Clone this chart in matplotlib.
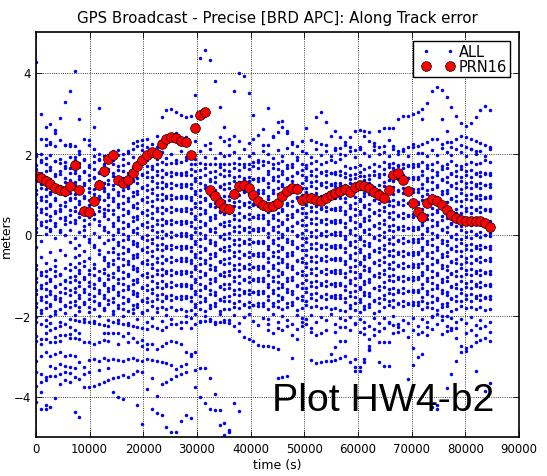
import matplotlib
matplotlib.use('Agg')
import matplotlib.pyplot as plt
from matplotlib.legend_handler import HandlerLine2D

step = 900  # seconds between epochs

# PRN16 along-track error, one value per epoch starting at t = 0
prn16 = [1.45, 1.40, 1.33, 1.25, 1.16, 1.10, 1.08, 1.20,
         1.72, 1.11, 0.59, 0.55, 0.82, 1.22, 1.58, 1.86,
         1.96, 1.35, 1.27, 1.35, 1.52, 1.70, 1.85, 1.96,
         2.04, 1.98, 2.23, 2.36, 2.40, 2.38, 2.32, 2.28,
         1.97, 2.62, 2.95, 3.02, 1.11, 0.94, 0.78, 0.65,
         0.63, 1.00, 1.20, 1.23, 1.14, 0.98, 0.82, 0.73,
         0.67, 0.71, 0.79, 0.94, 1.07, 1.16, 1.12, 0.86,
         0.90, 0.90, 0.86, 0.83, 0.90, 0.97, 1.02, 1.08,
         1.12, 1.06, 1.17, 1.22, 1.20, 1.14, 1.04, 0.98,
         0.89, 1.11, 1.46, 1.51, 1.34, 1.07, 0.77, 0.55,
         0.43, 0.79, 0.88, 0.83, 0.74, 0.60, 0.49, 0.41,
         0.36, 0.34, 0.34, 0.34, 0.34, 0.28, 0.19]

# all satellites, grouped by 2-hour ephemeris block (8 epochs per row)
blk00 = [
    [4.25, 2.98, 2.65, 2.73, 2.59, 2.88, 3.28, 3.55],
    [None, 2.37, 2.36, 2.29, 2.51, 2.34, 2.21, 2.23],
    [1.99, 1.99, 2.21, 2.23, 2.19, None, 2.21, 2.19],
    [1.93, 1.84, 1.88, 1.97, 1.81, 1.86, 1.79, 1.91],
    [1.71, 1.79, 1.74, 1.66, 1.82, 1.76, 1.69, 1.64],
    [1.62, 1.53, 1.57, 1.60, 1.49, 1.58, 1.65, 1.51],
    [1.40, 1.47, 1.43, 1.36, 1.45, 1.50, 1.39, 1.35],
    [1.31, 1.24, 1.27, 1.33, 1.21, 1.19, 1.30, 1.25],
    [1.09, 1.16, 1.12, 1.05, 1.18, 1.14, 1.07, 1.02],
    [1.00, 0.93, 0.96, 0.99, 0.90, 1.03, 0.98, 0.91],
    [0.79, 0.85, 0.82, 0.76, 0.84, 0.73, 0.80, 0.86],
    [0.69, 0.62, 0.65, 0.71, 0.59, 0.64, 0.70, 0.61],
    [0.48, 0.55, 0.51, 0.45, 0.53, 0.57, 0.44, 0.49],
    [0.38, 0.31, 0.34, 0.37, 0.28, 0.40, 0.36, 0.30],
    [0.17, 0.23, 0.19, 0.14, 0.21, 0.12, 0.25, 0.10],
    [0.07, None, 0.02, 0.09, None, 0.05, -0.02, None],
    [None, -0.15, None, None, -0.08, None, None, -0.18],
    [-0.31, None, None, -0.44, None, -0.38, None, None],
    [None, -0.55, None, None, -0.63, None, -0.50, None],
    [-0.76, None, -0.70, None, -0.79, None, None, -0.72],
    [-0.86, -0.93, -0.89, -0.84, -0.91, -0.97, -0.83, -0.88],
    [-1.07, -1.00, -1.03, -1.09, -1.02, -0.99, -1.12, -1.05],
    [-1.17, -1.24, -1.20, -1.15, -1.27, -1.22, -1.14, -1.18],
    [-1.38, -1.31, -1.35, -1.40, -1.29, -1.43, -1.33, -1.37],
    [-1.48, -1.55, -1.51, -1.46, -1.53, -1.58, -1.45, -1.49],
    [-1.69, -1.62, -1.66, -1.71, -1.60, -1.64, -1.74, -1.67],
    [-1.79, -1.86, -1.82, -1.77, -1.88, -1.84, -1.76, -1.80],
    [-2.04, -1.94, -2.12, -2.01, -1.96, -2.17, -1.93, -2.08],
    [-2.15, -2.22, -2.25, -2.18, -2.30, -2.25, -2.20, -2.28],
    [-2.50, -2.58, -2.44, -2.35, -2.54, -2.48, -2.48, -2.46],
    [-2.62, -2.70, -2.58, -2.65, -2.65, -2.62, None, -2.55],
    [-3.12, -3.01, -2.91, -2.99, -2.95, -2.91, -3.01, -2.98],
    [-3.40, -3.45, -3.52, -3.50, -3.50, -3.45, -3.40, -3.42],
    [-3.75, -3.64, -3.60, -3.25, -3.30, -3.20, -3.25, -3.28],
    [-4.14, -3.88, -4.31, -4.26, -4.03, -3.70, -3.60, -3.65],
    [None, -4.30, -4.21, None, None, None, None, None],
]
blk01 = [
    [4.03, 2.85, 2.36, 2.34, 2.65, 3.12, None, None],
    [2.19, 2.05, None, 2.20, 2.10, 2.00, 1.95, 1.92],
    [1.91, 1.98, 1.87, None, 1.93, 1.85, None, 1.89],
    [1.83, 1.76, 1.85, 1.72, 1.79, 1.87, 1.74, 1.81],
    [1.60, 1.67, 1.58, 1.66, 1.61, 1.55, 1.68, 1.62],
    [1.52, 1.45, 1.54, 1.47, 1.43, 1.51, 1.46, 1.56],
    [1.30, 1.37, 1.28, 1.35, 1.39, 1.31, 1.26, 1.34],
    [1.21, 1.14, 1.23, 1.16, 1.12, 1.20, 1.15, 1.24],
    [0.99, 1.06, 0.96, 1.04, 1.00, 0.94, 1.07, 1.01],
    [0.90, 0.83, 0.91, 0.85, 0.80, 0.88, 0.84, 0.93],
    [0.68, 0.75, 0.66, 0.73, 0.77, 0.69, 0.64, 0.72],
    [0.59, 0.52, 0.60, 0.54, 0.50, 0.58, 0.53, 0.61],
    [0.37, 0.44, 0.35, 0.42, 0.38, 0.33, 0.45, 0.39],
    [0.28, None, 0.21, 0.27, None, 0.24, 0.19, None],
    [None, 0.06, 0.12, None, 0.04, None, 0.10, 0.07],
    [-0.09, None, -0.03, -0.11, None, -0.05, None, -0.13],
    [None, -0.25, None, -0.18, -0.27, None, -0.21, None],
    [-0.34, None, -0.41, None, -0.32, -0.39, None, -0.44],
    [-0.56, -0.50, None, -0.58, None, -0.48, -0.55, None],
    [None, -0.71, -0.65, None, -0.73, None, -0.62, -0.70],
    [-0.81, -0.87, -0.79, -0.88, -0.83, -0.90, -0.85, -0.78],
    [-1.02, -0.96, -1.04, -0.97, -1.01, -1.07, -0.94, -1.00],
    [-1.12, -1.18, -1.10, -1.17, -1.21, -1.13, -1.19, -1.09],
    [-1.33, -1.27, -1.35, -1.28, -1.32, -1.38, -1.25, -1.31],
    [-1.43, -1.49, -1.41, -1.48, -1.52, -1.44, -1.50, -1.40],
    [-1.64, -1.58, -1.66, -1.59, -1.63, -1.69, -1.56, -1.62],
    [-1.74, -1.80, -1.72, -1.79, -1.83, -1.75, -1.81, -1.71],
    [-1.98, -1.89, -2.08, -1.92, -2.14, -2.02, -1.87, -2.11],
    [-2.10, -2.13, -2.15, -2.17, -2.19, -2.21, -2.23, -2.25],
    [-2.37, -2.44, -2.66, -2.65, -2.70, -2.65, -2.42, -2.43],
    [-2.55, -2.58, None, None, None, None, -2.60, -2.62],
    [-3.01, -3.16, -3.28, -3.10, -3.08, -3.12, -3.05, -3.10],
    [-3.30, None, -3.45, -3.40, None, -3.35, None, -3.30],
    [-3.53, -3.57, -3.77, -3.77, -3.74, -3.69, -3.64, -3.59],
    [-4.39, -4.51, None, None, None, None, None, None],
]
blk02 = [
    [2.05, 2.09, 1.99, 2.02, 2.10, 2.18, 2.33, 2.15],
    [None, None, None, None, 2.25, 2.30, 2.20, 2.36],
    [1.84, 1.97, 1.86, 2.05, 1.92, 1.80, 2.08, 1.85],
    [1.75, 1.68, 1.71, 1.77, 1.66, 1.70, 1.78, 1.69],
    [1.53, 1.60, 1.57, 1.51, 1.58, 1.62, 1.49, 1.55],
    [1.44, 1.37, 1.40, 1.45, 1.35, 1.39, 1.47, 1.42],
    [1.22, 1.29, 1.26, 1.20, 1.31, 1.27, 1.18, 1.23],
    [1.13, 1.06, 1.09, 1.14, 1.04, 1.08, 1.16, 1.11],
    [0.91, 0.98, 0.94, 0.89, 0.96, 1.00, 0.87, 0.92],
    [0.82, 0.75, 0.79, 0.83, 0.73, 0.77, 0.85, 0.80],
    [0.60, 0.67, 0.63, 0.58, 0.69, 0.65, 0.56, 0.61],
    [0.51, 0.44, 0.48, 0.52, 0.42, 0.46, 0.54, 0.49],
    [0.29, 0.36, 0.32, 0.27, 0.34, 0.38, 0.25, 0.30],
    [0.20, 0.13, 0.17, 0.21, 0.11, 0.15, 0.23, 0.18],
    [-0.02, 0.05, 0.01, -0.04, 0.07, 0.03, -0.06, -0.01],
    [-0.11, -0.18, -0.14, -0.10, -0.16, -0.20, -0.08, -0.13],
    [-0.33, -0.26, -0.30, -0.35, -0.24, -0.28, -0.37, -0.32],
    [-0.42, -0.49, -0.45, -0.41, -0.51, -0.47, -0.39, -0.43],
    [-0.64, -0.57, -0.61, -0.66, -0.59, -0.55, -0.68, -0.63],
    [-0.73, -0.80, -0.76, -0.72, -0.78, -0.82, -0.70, -0.74],
    [-0.95, -0.88, -0.92, -0.97, -0.86, -0.90, -0.99, -0.94],
    [-1.04, -1.11, -1.07, -1.03, -1.13, -1.09, -1.01, -1.05],
    [-1.26, -1.19, -1.23, -1.28, -1.21, -1.17, -1.30, -1.25],
    [-1.35, -1.42, -1.38, -1.34, -1.40, -1.44, -1.32, -1.36],
    [-1.57, -1.50, -1.54, -1.59, -1.48, -1.52, -1.61, -1.56],
    [-1.66, -1.73, -1.69, -1.65, -1.75, -1.71, -1.63, -1.67],
    [-1.88, -1.81, -1.85, -1.90, -1.83, -1.79, -1.92, -1.87],
    [-1.97, -2.12, -2.00, -2.18, -1.95, -2.09, -1.94, -2.15],
    [-2.15, -2.18, -2.20, -2.23, -2.25, -2.28, -2.30, -2.33],
    [-2.42, -2.42, -2.50, -2.44, -2.55, -2.66, -2.75, -2.83],
    [None, -2.70, None, -2.65, None, None, -2.60, -2.70],
    [-3.08, -3.10, -3.12, -3.08, -3.05, -3.10, -3.12, -3.08],
    [-3.55, -3.53, -3.47, -3.53, -3.44, -3.36, -3.40, -3.81],
    [-3.90, -4.00, -4.05, None, None, -4.20, -4.68, None],
]
blk03 = [
    [2.23, 2.42, 2.89, 3.07, 3.10, 3.03, 2.95, 2.89],
    [None, 2.15, 2.20, None, None, 2.50, None, 2.40],
    [1.95, 1.86, 2.03, 1.88, 1.99, 1.77, 2.06, 1.92],
    [1.70, 1.74, 1.79, 1.73, 1.77, 1.83, 1.78, 1.85],
    [1.61, 1.56, 1.59, 1.52, 1.55, 1.49, 1.53, 1.46],
    [1.41, 1.46, 1.43, 1.49, 1.45, 1.51, 1.47, 1.54],
    [1.32, 1.27, 1.30, 1.24, 1.28, 1.21, 1.25, 1.19],
    [1.12, 1.17, 1.14, 1.20, 1.16, 1.22, 1.18, 1.25],
    [1.02, 0.97, 1.00, 0.94, 0.98, 0.91, 0.95, 0.89],
    [0.83, 0.88, 0.85, 0.91, 0.87, 0.93, 0.89, 0.96],
    [0.71, 0.66, 0.69, 0.63, 0.67, 0.60, 0.64, 0.58],
    [0.52, 0.57, 0.54, 0.60, 0.56, 0.62, 0.58, 0.65],
    [0.41, 0.36, 0.39, 0.33, 0.37, 0.30, 0.34, 0.28],
    [0.21, 0.26, 0.23, 0.29, 0.25, 0.31, 0.27, 0.34],
    [0.10, 0.05, 0.08, 0.02, 0.06, -0.01, 0.03, -0.03],
    [-0.10, -0.05, -0.08, -0.02, -0.06, 0.00, -0.04, 0.03],
    [-0.21, -0.26, -0.23, -0.29, -0.25, -0.32, -0.28, -0.34],
    [-0.41, -0.36, -0.39, -0.33, -0.37, -0.31, -0.35, -0.28],
    [-0.52, -0.57, -0.54, -0.60, -0.56, -0.63, -0.59, -0.65],
    [-0.72, -0.67, -0.70, -0.64, -0.68, -0.62, -0.66, -0.59],
    [-0.83, -0.88, -0.85, -0.91, -0.87, -0.94, -0.90, -0.96],
    [-1.03, -0.98, -1.01, -0.95, -0.99, -0.93, -0.97, -0.90],
    [-1.14, -1.19, -1.16, -1.22, -1.18, -1.25, -1.21, -1.27],
    [-1.34, -1.29, -1.32, -1.26, -1.30, -1.24, -1.28, -1.21],
    [-1.45, -1.50, -1.47, -1.53, -1.49, -1.56, -1.52, -1.58],
    [-1.65, -1.60, -1.63, -1.57, -1.61, -1.55, -1.59, -1.52],
    [-1.76, -1.81, -1.78, -1.84, -1.80, -1.87, -1.83, -1.89],
    [-2.06, -1.91, -2.13, -1.98, -2.08, -1.86, -2.17, -2.02],
    [-2.25, -2.30, -2.35, -2.28, -2.20, -2.22, -2.30, -2.16],
    [-2.70, -2.83, -2.75, -2.68, -2.62, -2.65, -2.70, -2.91],
    [-3.10, -3.12, -3.15, -3.18, -3.22, -3.32, -3.25, -3.20],
    [-3.55, -3.98, -3.70, -3.65, -3.57, -3.50, -3.45, -3.40],
    [-4.30, -4.40, -4.46, -4.76, -4.88, -4.88, -4.60, -4.46],
]
blk04 = [
    [2.92, 3.44, 4.36, 4.56, 4.32, 3.78, 3.16, 2.65],
    [None, 2.30, None, 2.20, 2.25, None, 2.40, 2.30],
    [1.75, 1.74, 1.76, 1.74, 1.73, 1.74, 1.75, 1.74],
    [1.98, 1.86, 2.06, 1.91, 2.12, 1.89, 2.01, 1.95],
    [1.62, 1.56, 1.59, 1.64, 1.54, 1.58, 1.66, 1.60],
    [1.46, 1.39, 1.43, 1.47, 1.37, 1.41, 1.49, 1.44],
    [1.24, 1.31, 1.28, 1.22, 1.33, 1.29, 1.20, 1.25],
    [1.15, 1.08, 1.11, 1.16, 1.06, 1.10, 1.18, 1.13],
    [0.93, 1.00, 0.96, 0.91, 0.98, 1.02, 0.89, 0.94],
    [0.84, 0.77, 0.81, 0.85, 0.75, 0.79, 0.87, 0.82],
    [0.62, 0.69, 0.65, 0.60, 0.71, 0.67, 0.58, 0.63],
    [0.53, 0.46, 0.50, 0.54, 0.44, 0.48, 0.56, 0.51],
    [0.31, 0.38, 0.34, 0.29, 0.36, 0.40, 0.27, 0.32],
    [0.22, 0.15, 0.19, 0.23, 0.13, 0.17, 0.25, 0.20],
    [0.00, 0.07, 0.03, -0.02, 0.09, 0.05, -0.04, 0.01],
    [-0.09, -0.16, -0.12, -0.08, -0.14, -0.18, -0.06, -0.11],
    [-0.31, -0.24, -0.28, -0.33, -0.22, -0.26, -0.35, -0.30],
    [-0.40, -0.47, -0.43, -0.39, -0.49, -0.45, -0.37, -0.41],
    [-0.62, -0.55, -0.59, -0.64, -0.57, -0.53, -0.66, -0.61],
    [-0.71, -0.78, -0.74, -0.70, -0.76, -0.80, -0.68, -0.72],
    [-0.93, -0.86, -0.90, -0.95, -0.84, -0.88, -0.97, -0.92],
    [-1.02, -1.09, -1.05, -1.01, -1.11, -1.07, -0.99, -1.03],
    [-1.24, -1.17, -1.21, -1.26, -1.19, -1.15, -1.28, -1.23],
    [-1.33, -1.40, -1.36, -1.32, -1.38, -1.42, -1.30, -1.34],
    [-1.55, -1.48, -1.52, -1.57, -1.46, -1.50, -1.59, -1.54],
    [-1.64, -1.71, -1.67, -1.63, -1.73, -1.69, -1.61, -1.65],
    [-1.86, -1.79, -1.83, -1.88, -1.81, -1.77, -1.90, -1.85],
    [-2.05, -1.96, -2.14, -2.01, -2.09, -2.20, -1.97, -2.11],
    [-2.32, -2.21, -2.15, -2.13, -2.13, -2.15, -2.15, -2.15],
    [-2.95, -2.91, None, None, None, None, -4.70, -4.95],
    [-2.99, -3.34, -3.30, -3.30, -3.54, -3.94, None, None],
    [-4.54, -3.77, -4.02, -4.17, -4.31, -4.33, -4.33, -4.65],
]
blk05 = [
    [2.36, 3.54, 3.99, 3.91, 3.49, 2.96, 2.46, 2.60],
    [2.20, 2.42, 2.30, None, 2.25, 2.35, None, 2.20],
    [1.74, 1.76, 1.74, 1.73, 1.75, 1.78, 1.80, 1.82],
    [1.96, 2.04, 1.89, 2.10, 1.93, 2.01, 1.84, 2.07],
    [1.58, 1.63, 1.60, 1.66, 1.62, 1.68, 1.64, 1.71],
    [1.47, 1.42, 1.45, 1.39, 1.43, 1.36, 1.40, 1.34],
    [1.27, 1.32, 1.29, 1.35, 1.31, 1.37, 1.33, 1.40],
    [1.16, 1.11, 1.14, 1.08, 1.12, 1.05, 1.09, 1.03],
    [0.96, 1.01, 0.98, 1.04, 1.00, 1.06, 1.02, 1.09],
    [0.85, 0.80, 0.83, 0.77, 0.81, 0.74, 0.78, 0.72],
    [0.65, 0.70, 0.67, 0.73, 0.69, 0.75, 0.71, 0.78],
    [0.54, 0.49, 0.52, 0.46, 0.50, 0.43, 0.47, 0.41],
    [0.34, 0.39, 0.36, 0.42, 0.38, 0.44, 0.40, 0.47],
    [0.23, 0.18, 0.21, 0.15, 0.19, 0.12, 0.16, 0.10],
    [0.03, 0.08, 0.05, 0.11, 0.07, 0.13, 0.09, 0.16],
    [-0.08, -0.13, -0.10, -0.16, -0.12, -0.19, -0.15, -0.21],
    [-0.28, -0.23, -0.26, -0.20, -0.24, -0.18, -0.22, -0.15],
    [-0.39, -0.44, -0.41, -0.47, -0.43, -0.50, -0.46, -0.52],
    [-0.59, -0.54, -0.57, -0.51, -0.55, -0.49, -0.53, -0.46],
    [-0.70, -0.75, -0.72, -0.78, -0.74, -0.81, -0.77, -0.83],
    [-0.90, -0.85, -0.88, -0.82, -0.86, -0.80, -0.84, -0.77],
    [-1.01, -1.06, -1.03, -1.09, -1.05, -1.12, -1.08, -1.14],
    [-1.21, -1.16, -1.19, -1.13, -1.17, -1.11, -1.15, -1.08],
    [-1.32, -1.37, -1.34, -1.40, -1.36, -1.43, -1.39, -1.45],
    [-1.52, -1.47, -1.50, -1.44, -1.48, -1.42, -1.46, -1.39],
    [-1.63, -1.68, -1.65, -1.71, -1.67, -1.74, -1.70, -1.76],
    [-1.83, -1.78, -1.81, -1.75, -1.79, -1.73, -1.77, -1.70],
    [-2.10, -1.99, -2.18, -2.04, -1.96, -2.13, -2.24, -2.07],
    [-2.19, -2.27, -2.39, -2.52, -2.58, -2.64, -2.72, -2.75],
    [-4.87, -4.17, -4.35, None, None, None, None, None],
    [-4.82, None, None, None, None, None, None, None],
]
blk06 = [
    [3.12, 2.44, 2.79, 2.81, 2.56, 2.29, 2.18, 2.30],
    [2.20, 2.40, 2.54, 2.65, 2.51, 2.23, None, None],
    [1.99, 1.90, 2.08, 1.94, 2.13, 2.02, 1.92, 2.05],
    [1.80, 1.73, 1.76, 1.82, 1.71, 1.75, 1.83, 1.74],
    [1.58, 1.65, 1.62, 1.56, 1.63, 1.67, 1.54, 1.60],
    [1.49, 1.42, 1.45, 1.50, 1.40, 1.44, 1.52, 1.47],
    [1.27, 1.34, 1.31, 1.25, 1.36, 1.32, 1.23, 1.28],
    [1.18, 1.11, 1.14, 1.19, 1.09, 1.13, 1.21, 1.16],
    [0.96, 1.03, 0.99, 0.94, 1.01, 1.05, 0.92, 0.97],
    [0.87, 0.80, 0.84, 0.88, 0.78, 0.82, 0.90, 0.85],
    [0.65, 0.72, 0.68, 0.63, 0.74, 0.70, 0.61, 0.66],
    [0.56, 0.49, 0.53, 0.57, 0.47, 0.51, 0.59, 0.54],
    [0.34, 0.41, 0.37, 0.32, 0.39, 0.43, 0.30, 0.35],
    [0.25, 0.18, 0.22, 0.26, 0.16, 0.20, 0.28, 0.23],
    [0.03, 0.10, 0.06, 0.01, 0.12, 0.08, -0.01, 0.04],
    [-0.06, -0.13, -0.09, -0.05, -0.11, -0.15, -0.03, -0.08],
    [-0.28, -0.21, -0.25, -0.30, -0.19, -0.23, -0.32, -0.27],
    [-0.37, -0.44, -0.40, -0.36, -0.46, -0.42, -0.34, -0.38],
    [-0.59, -0.52, -0.56, -0.61, -0.54, -0.50, -0.63, -0.58],
    [-0.68, -0.75, -0.71, -0.67, -0.73, -0.77, -0.65, -0.69],
    [-0.90, -0.83, -0.87, -0.92, -0.81, -0.85, -0.94, -0.89],
    [-0.99, -1.06, -1.02, -0.98, -1.08, -1.04, -0.96, -1.00],
    [-1.21, -1.14, -1.18, -1.23, -1.16, -1.12, -1.25, -1.20],
    [-1.30, -1.37, -1.33, -1.29, -1.35, -1.39, -1.27, -1.31],
    [-1.52, -1.45, -1.49, -1.54, -1.43, -1.47, -1.56, -1.51],
    [-1.61, -1.68, -1.64, -1.60, -1.70, -1.66, -1.58, -1.62],
    [-1.83, -1.76, -1.80, -1.85, -1.78, -1.74, -1.87, -1.82],
    [-2.08, -1.97, -2.16, -2.02, -2.11, -2.22, -1.99, -2.06],
    [-2.20, None, -2.30, None, -2.25, None, None, -2.15],
    [-2.35, -2.42, None, -2.37, None, -2.47, -2.33, None],
    [-2.75, -2.79, -2.82, None, None, None, None, None],
    [None, None, -3.54, -3.52, -3.50, -3.05, -2.58, -2.27],
]
blk07 = [
    [2.62, 2.34, 2.89, 3.02, 2.79, 2.44, 2.09, 2.14],
    [None, None, 2.29, 2.23, 2.21, None, 2.55, 2.40],
    [2.02, 1.92, 2.10, 1.97, 2.05, 1.93, 2.14, 2.00],
    [1.72, 1.76, 1.81, 1.75, 1.79, 1.85, 1.80, 1.87],
    [1.63, 1.58, 1.61, 1.54, 1.57, 1.51, 1.55, 1.48],
    [1.43, 1.48, 1.45, 1.51, 1.47, 1.53, 1.49, 1.56],
    [1.34, 1.29, 1.32, 1.26, 1.30, 1.23, 1.27, 1.21],
    [1.14, 1.19, 1.16, 1.22, 1.18, 1.24, 1.20, 1.27],
    [1.04, 0.99, 1.02, 0.96, 1.00, 0.93, 0.97, 0.91],
    [0.85, 0.90, 0.87, 0.93, 0.89, 0.95, 0.91, 0.98],
    [0.73, 0.68, 0.71, 0.65, 0.69, 0.62, 0.66, 0.60],
    [0.54, 0.59, 0.56, 0.62, 0.58, 0.64, 0.60, 0.67],
    [0.43, 0.38, 0.41, 0.35, 0.39, 0.32, 0.36, 0.30],
    [0.23, 0.28, 0.25, 0.31, 0.27, 0.33, 0.29, 0.36],
    [0.12, 0.07, 0.10, 0.04, 0.08, 0.01, 0.05, -0.01],
    [-0.08, -0.03, -0.06, 0.00, -0.04, 0.02, -0.02, 0.05],
    [-0.19, -0.24, -0.21, -0.27, -0.23, -0.30, -0.26, -0.32],
    [-0.39, -0.34, -0.37, -0.31, -0.35, -0.29, -0.33, -0.26],
    [-0.50, -0.55, -0.52, -0.58, -0.54, -0.61, -0.57, -0.63],
    [-0.70, -0.65, -0.68, -0.62, -0.66, -0.60, -0.64, -0.57],
    [-0.81, -0.86, -0.83, -0.89, -0.85, -0.92, -0.88, -0.94],
    [-1.01, -0.96, -0.99, -0.93, -0.97, -0.91, -0.95, -0.88],
    [-1.12, -1.17, -1.14, -1.20, -1.16, -1.23, -1.19, -1.25],
    [-1.32, -1.27, -1.30, -1.24, -1.28, -1.22, -1.26, -1.19],
    [-1.43, -1.48, -1.45, -1.51, -1.47, -1.54, -1.50, -1.56],
    [-1.63, -1.58, -1.61, -1.55, -1.59, -1.53, -1.57, -1.50],
    [-1.74, -1.79, -1.76, -1.82, -1.78, -1.85, -1.81, -1.87],
    [-2.09, -1.98, -2.17, -2.03, -2.12, -1.96, -2.20, -2.07],
    [None, -2.31, None, -2.44, -2.36, None, -2.41, -2.29],
    [-2.21, -2.40, -2.48, None, None, None, None, None],
    [None, -3.10, -3.18, -3.16, -3.13, -3.12, -3.10, -3.05],
    [None, None, None, None, None, -2.95, -2.77, -2.64],
]
blk08 = [
    [2.28, 2.40, 2.56, 2.58, 2.56, 2.52, 2.19, 2.55],
    [2.20, 2.15, 2.09, 2.15, 2.44, 2.30, 2.25, 2.15],
    [1.97, 2.06, 1.92, 2.11, 2.01, 1.94, 2.08, 1.99],
    [1.70, 1.64, 1.67, 1.72, 1.62, 1.66, 1.74, 1.68],
    [1.52, 1.46, 1.49, 1.54, 1.44, 1.48, 1.56, 1.50],
    [1.43, 1.36, 1.40, 1.44, 1.34, 1.38, 1.46, 1.41],
    [1.21, 1.28, 1.25, 1.19, 1.30, 1.26, 1.17, 1.22],
    [1.12, 1.05, 1.08, 1.13, 1.03, 1.07, 1.15, 1.10],
    [0.90, 0.97, 0.93, 0.88, 0.95, 0.99, 0.86, 0.91],
    [0.81, 0.74, 0.78, 0.82, 0.72, 0.76, 0.84, 0.79],
    [0.59, 0.66, 0.62, 0.57, 0.68, 0.64, 0.55, 0.60],
    [0.50, 0.43, 0.47, 0.51, 0.41, 0.45, 0.53, 0.48],
    [0.28, 0.35, 0.31, 0.26, 0.33, 0.37, 0.24, 0.29],
    [0.19, 0.12, 0.16, 0.20, 0.10, 0.14, 0.22, 0.17],
    [-0.03, 0.04, 0.00, -0.05, 0.06, 0.02, -0.07, -0.02],
    [-0.12, -0.19, -0.15, -0.11, -0.17, -0.21, -0.09, -0.14],
    [-0.34, -0.27, -0.31, -0.36, -0.25, -0.29, -0.38, -0.33],
    [-0.43, -0.50, -0.46, -0.42, -0.52, -0.48, -0.40, -0.44],
    [-0.65, -0.58, -0.62, -0.67, -0.60, -0.56, -0.69, -0.64],
    [-0.74, -0.81, -0.77, -0.73, -0.79, -0.83, -0.71, -0.75],
    [-0.96, -0.89, -0.93, -0.98, -0.87, -0.91, -1.00, -0.95],
    [-1.05, -1.12, -1.08, -1.04, -1.14, -1.10, -1.02, -1.06],
    [-1.27, -1.20, -1.24, -1.29, -1.22, -1.18, -1.31, -1.26],
    [-1.36, -1.43, -1.39, -1.35, -1.41, -1.45, -1.33, -1.37],
    [-1.58, -1.51, -1.55, -1.60, -1.49, -1.53, -1.62, -1.57],
    [-1.67, -1.74, -1.70, -1.66, -1.76, -1.72, -1.64, -1.68],
    [-1.89, -1.82, -1.86, -1.91, -1.84, -1.80, -1.93, -1.88],
    [-2.12, -2.03, -2.19, -2.08, -2.15, -2.25, -2.06, -2.18],
    [-2.28, -2.35, None, -2.41, -2.30, None, -2.47, -2.38],
    [-2.64, None, -2.21, None, -2.46, -2.58, -2.33, -2.66],
    [-2.99, -3.16, -3.28, -3.28, -3.07, -2.76, None, -3.16],
    [None, None, -3.36, -3.36, -3.16, -2.86, None, None],
    [None, None, -3.07, None, None, -2.83, None, None],
]
blk09 = [
    [2.62, 2.64, 2.64, 2.85, 2.92, 2.92, 2.97, 3.03],
    [2.18, 2.33, 2.19, 2.07, 2.11, 2.15, 2.23, 2.19],
    [2.04, 1.95, 2.12, 1.99, 2.07, 1.93, 2.15, 2.02],
    [1.61, 1.66, 1.63, 1.69, 1.65, 1.71, 1.67, 1.74],
    [1.78, 1.74, 1.77, 1.72, 1.75, 1.70, 1.73, 1.68],
    [1.50, 1.45, 1.48, 1.42, 1.46, 1.39, 1.43, 1.37],
    [1.30, 1.35, 1.32, 1.38, 1.34, 1.40, 1.36, 1.43],
    [1.19, 1.14, 1.17, 1.11, 1.15, 1.08, 1.12, 1.06],
    [0.99, 1.04, 1.01, 1.07, 1.03, 1.09, 1.05, 1.12],
    [0.88, 0.83, 0.86, 0.80, 0.84, 0.77, 0.81, 0.75],
    [0.68, 0.73, 0.70, 0.76, 0.72, 0.78, 0.74, 0.81],
    [0.57, 0.52, 0.55, 0.49, 0.53, 0.46, 0.50, 0.44],
    [0.37, 0.42, 0.39, 0.45, 0.41, 0.47, 0.43, 0.50],
    [0.26, 0.21, 0.24, 0.18, 0.22, 0.15, 0.19, 0.13],
    [0.06, 0.11, 0.08, 0.14, 0.10, 0.16, 0.12, 0.19],
    [-0.05, -0.10, -0.07, -0.13, -0.09, -0.16, -0.12, -0.18],
    [-0.25, -0.20, -0.23, -0.17, -0.21, -0.15, -0.19, -0.12],
    [-0.36, -0.41, -0.38, -0.44, -0.40, -0.47, -0.43, -0.49],
    [-0.56, -0.51, -0.54, -0.48, -0.52, -0.46, -0.50, -0.43],
    [-0.67, -0.72, -0.69, -0.75, -0.71, -0.78, -0.74, -0.80],
    [-0.87, -0.82, -0.85, -0.79, -0.83, -0.77, -0.81, -0.74],
    [-0.98, -1.03, -1.00, -1.06, -1.02, -1.09, -1.05, -1.11],
    [-1.18, -1.13, -1.16, -1.10, -1.14, -1.08, -1.12, -1.05],
    [-1.29, -1.34, -1.31, -1.37, -1.33, -1.40, -1.36, -1.42],
    [-1.49, -1.44, -1.47, -1.41, -1.45, -1.39, -1.43, -1.36],
    [-1.60, -1.65, -1.62, -1.68, -1.64, -1.71, -1.67, -1.73],
    [-1.80, -1.75, -1.78, -1.72, -1.76, -1.70, -1.74, -1.67],
    [-2.07, -2.16, -2.01, -2.22, -2.10, -2.18, -2.05, -2.27],
    [-2.31, None, -2.44, -2.29, None, -2.52, -2.37, -2.45],
    [-2.66, -2.65, -2.23, -2.40, -2.35, None, -2.81, -3.02],
    [-3.24, -3.24, None, None, None, -3.57, -3.22, None],
    [None, -2.19, None, None, None, None, None, None],
]
blk10 = [
    [3.09, 3.25, 3.55, 3.65, 3.57, 3.40, 3.16, 2.92],
    [2.23, 2.28, 2.36, 2.37, 2.23, 2.28, 2.29, 2.37],
    [2.85, None, None, None, 2.85, 2.55, 2.17, None],
    [2.01, 1.93, 2.09, 1.97, 2.13, 2.04, 1.96, 2.10],
    [1.78, 1.71, 1.74, 1.80, 1.69, 1.73, 1.81, 1.72],
    [1.56, 1.63, 1.60, 1.54, 1.61, 1.65, 1.52, 1.58],
    [1.47, 1.40, 1.43, 1.48, 1.38, 1.42, 1.50, 1.45],
    [1.25, 1.32, 1.29, 1.23, 1.34, 1.30, 1.21, 1.26],
    [1.16, 1.09, 1.12, 1.17, 1.07, 1.11, 1.19, 1.14],
    [0.94, 1.01, 0.97, 0.92, 0.99, 1.03, 0.90, 0.95],
    [0.85, 0.78, 0.82, 0.86, 0.76, 0.80, 0.88, 0.83],
    [0.63, 0.70, 0.66, 0.61, 0.72, 0.68, 0.59, 0.64],
    [0.54, 0.47, 0.51, 0.55, 0.45, 0.49, 0.57, 0.52],
    [0.32, 0.39, 0.35, 0.30, 0.37, 0.41, 0.28, 0.33],
    [0.23, 0.16, 0.20, 0.24, 0.14, 0.18, 0.26, 0.21],
    [0.01, 0.08, 0.04, -0.01, 0.10, 0.06, -0.03, 0.02],
    [-0.08, -0.15, -0.11, -0.07, -0.13, -0.17, -0.05, -0.10],
    [-0.30, -0.23, -0.27, -0.32, -0.21, -0.25, -0.34, -0.29],
    [-0.39, -0.46, -0.42, -0.38, -0.48, -0.44, -0.36, -0.40],
    [-0.61, -0.54, -0.58, -0.63, -0.56, -0.52, -0.65, -0.60],
    [-0.70, -0.77, -0.73, -0.69, -0.75, -0.79, -0.67, -0.71],
    [-0.92, -0.85, -0.89, -0.94, -0.83, -0.87, -0.96, -0.91],
    [-1.01, -1.08, -1.04, -1.00, -1.10, -1.06, -0.98, -1.02],
    [-1.23, -1.16, -1.20, -1.25, -1.18, -1.14, -1.27, -1.22],
    [-1.32, -1.39, -1.35, -1.31, -1.37, -1.41, -1.29, -1.33],
    [-1.54, -1.47, -1.51, -1.56, -1.45, -1.49, -1.58, -1.53],
    [-1.63, -1.70, -1.66, -1.62, -1.72, -1.68, -1.60, -1.64],
    [-1.85, -1.78, -1.82, -1.87, -1.80, -1.76, -1.89, -1.84],
    [-2.08, -2.17, -2.04, -2.21, -2.11, -2.26, -2.06, -2.15],
    [-2.40, -2.48, -2.33, None, -2.45, -2.38, None, -2.30],
    [-2.95, -2.29, -2.02, -1.96, -2.02, -2.02, -2.32, -2.56],
    [None, None, -4.27, -4.21, None, -3.80, -3.44, -3.12],
    [None, None, None, -4.31, None, None, -2.37, None],
]
blk11 = [
    [2.75, 2.67, 2.75, 2.89, 3.07, 3.18, 3.07],
    [2.44, 2.40, 2.36, 2.30, 2.25, 2.21, 2.17],
    [2.20, 2.15, 2.10, 2.05, None, None, None],
    [2.03, 1.94, 2.11, 1.99, 2.07, 1.95, 2.12],
    [1.70, 1.74, 1.79, 1.73, 1.77, 1.83, 1.78],
    [1.61, 1.56, 1.59, 1.52, 1.55, 1.49, 1.53],
    [1.41, 1.46, 1.43, 1.49, 1.45, 1.51, 1.47],
    [1.32, 1.27, 1.30, 1.24, 1.28, 1.21, 1.25],
    [1.12, 1.17, 1.14, 1.20, 1.16, 1.22, 1.18],
    [1.02, 0.97, 1.00, 0.94, 0.98, 0.91, 0.95],
    [0.83, 0.88, 0.85, 0.91, 0.87, 0.93, 0.89],
    [0.71, 0.66, 0.69, 0.63, 0.67, 0.60, 0.64],
    [0.52, 0.57, 0.54, 0.60, 0.56, 0.62, 0.58],
    [0.41, 0.36, 0.39, 0.33, 0.37, 0.30, 0.34],
    [0.21, 0.26, 0.23, 0.29, 0.25, 0.31, 0.27],
    [0.10, 0.05, 0.08, 0.02, 0.06, -0.01, 0.03],
    [-0.10, -0.05, -0.08, -0.02, -0.06, 0.00, -0.04],
    [-0.21, -0.26, -0.23, -0.29, -0.25, -0.32, -0.28],
    [-0.41, -0.36, -0.39, -0.33, -0.37, -0.31, -0.35],
    [-0.52, -0.57, -0.54, -0.60, -0.56, -0.63, -0.59],
    [-0.72, -0.67, -0.70, -0.64, -0.68, -0.62, -0.66],
    [-0.83, -0.88, -0.85, -0.91, -0.87, -0.94, -0.90],
    [-1.03, -0.98, -1.01, -0.95, -0.99, -0.93, -0.97],
    [-1.14, -1.19, -1.16, -1.22, -1.18, -1.25, -1.21],
    [-1.34, -1.29, -1.32, -1.26, -1.30, -1.24, -1.28],
    [-1.45, -1.50, -1.47, -1.53, -1.49, -1.56, -1.52],
    [-1.65, -1.60, -1.63, -1.57, -1.61, -1.55, -1.59],
    [-1.76, -1.81, -1.78, -1.84, -1.80, -1.87, -1.83],
    [-2.09, -2.19, -2.04, -2.23, -2.12, -2.27, -2.15],
    [None, -2.42, -2.35, -2.48, -2.31, None, -2.40],
    [-2.75, -2.87, -2.75, -2.66, -2.60, -2.56, -2.62],
    [-2.91, -2.81, None, -3.36, None, -3.86, -3.67],
]
blocks = [blk00, blk01, blk02, blk03, blk04, blk05,
          blk06, blk07, blk08, blk09, blk10, blk11]

# flatten the blocks into time / error pairs
t_all, err_all = [], []
for b, rows in enumerate(blocks):
    for row in rows:
        for k, v in enumerate(row):
            if v is not None:
                t_all.append(step * (8 * b + k))
                err_all.append(v)
t_prn = [step * i for i in range(len(prn16))]

fig = plt.figure(figsize=(5.47, 4.77), dpi=100)
ax = fig.add_axes([36 / 547, 1 - 438 / 477, 483 / 547, 405 / 477])

ln_all, = ax.plot(t_all, err_all, 'b.', ms=5, mew=0, label='ALL')
ln_prn, = ax.plot(t_prn, prn16, 'ro', ms=7, mec='k', mew=0.5, label='PRN16')

ax.set_xlim(0, 90000)
ax.set_ylim(-5, 5)
ax.set_xticks(range(0, 90001, 10000))
ax.set_yticks([-4, -2, 0, 2, 4])
ax.grid(True, color='k', linestyle=':', linewidth=0.6)
ax.tick_params(direction='in', top=True, right=True, length=4, width=0.6,
               labelsize=8.5)
for sp in ax.spines.values():
    sp.set_linewidth(1.2)

ax.set_title('GPS Broadcast - Precise [BRD APC]: Along Track error',
             fontsize=10.8, pad=7)
ax.set_xlabel('time (s)', fontsize=9, labelpad=2)
ax.set_ylabel('meters', fontsize=9)
ax.yaxis.set_label_coords(-0.048, 0.5)

hmap = {ln_all: HandlerLine2D(marker_pad=0.65, numpoints=2),
        ln_prn: HandlerLine2D(marker_pad=0.65, numpoints=2)}
ax.legend(loc='upper right', handler_map=hmap, fancybox=False, framealpha=1,
          edgecolor='k', fontsize=10.5, handlelength=2.94, handletextpad=0.0,
          borderpad=0.2, labelspacing=0.05, borderaxespad=0.6)

ax.text(0.489, 0.067, 'Plot HW4-b2', transform=ax.transAxes,
        fontsize=28.3, family='Liberation Sans', ha='left', va='baseline',
        zorder=10)

fig.savefig('out.png', dpi=100)
